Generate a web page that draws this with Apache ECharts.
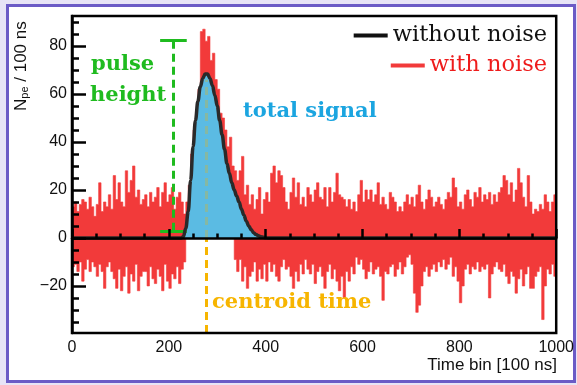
<!DOCTYPE html>
<html>
<head>
<meta charset="utf-8">
<script src="https://cdn.jsdelivr.net/npm/echarts@6/dist/echarts.min.js"></script>
<style>
  html, body { margin: 0; padding: 0; background: #e7e4f6; }
  #frame { position: absolute; left: 6px; top: 4px; width: 564px; height: 373px; border: 3px solid #6b5bc6; background: #ffffff; }
  #chart { position: absolute; left: 0; top: 0; width: 577px; height: 385px; }
</style>
</head>
<body>
<div id="frame"></div>
<div id="chart"></div>
<script>
// ---------------- data ----------------
// histogram bins: 200 bins of 5 time-bins each (0 .. 1000)
const binWidth = 5;
// upper envelope of the noisy histogram (N_pe / 100 ns)
const noisyUpper = [
  13, 15, 11, 14, 16, 15, 12, 17, 13, 9,
  14, 23, 11, 15, 13, 18, 12, 26, 16, 23,
  15, 13, 28, 19, 24, 30, 17, 20, 14, 16,
  18, 13, 19, 15, 17, 21, 13, 19, 23, 15,
  18, 21, 12, 17, 19, 15, 10, 15, 22, 35,
  45, 53, 62, 86, 87, 82, 84, 74, 77, 66,
  62, 52, 50, 45, 38, 42, 30, 28, 24, 28,
  34, 18, 22, 14, 18, 12, 16, 21, 10, 16,
  19, 15, 27, 30, 23, 28, 26, 21, 15, 12,
  19, 25, 17, 23, 14, 17, 13, 21, 18, 15,
  20, 23, 17, 16, 21, 13, 21, 15, 19, 27,
  18, 17, 16, 13, 16, 12, 15, 11, 18, 24,
  15, 20, 16, 20, 15, 18, 23, 14, 17, 14,
  12, 19, 17, 15, 11, 13, 11, 15, 18, 14,
  17, 13, 18, 22, 15, 12, 16, 20, 17, 13,
  15, 17, 14, 12, 16, 19, 17, 25, 21, 13,
  15, 12, 18, 20, 16, 13, 19, 17, 21, 15,
  18, 16, 19, 14, 18, 15, 19, 21, 26, 24,
  18, 23, 15, 20, 29, 23, 17, 13, 26, 15,
  10, 12, 11, 14, 12, 18, 15, 11, 15, 18
];
// lower envelope of the noisy histogram
const noisyLower = [
  -12, -11, -14, -10, -18, -13, -9, -14, -10, -12,
  -16, -11, -14, -21, -12, -10, -14, -17, -21, -13,
  -22, -16, -12, -23, -15, -18, -11, -22, -16, -14,
  -14, -20, -12, -17, -19, -13, -16, -22, -11, -18,
  -21, -15, -17, -12, -19, -13, -10, 0, 0, 0,
  0, 0, 0, 0, 0, 0, 0, 0, 0, 0,
  0, 0, 0, 0, 0, 0, 0, -9, -14, -9,
  -18, -12, -21, -16, -14, -10, -18, -13, -17, -11,
  -18, -10, -14, -11, -16, -18, -12, -9, -13, -12,
  -16, -21, -14, -18, -11, -15, -9, -13, -15, -11,
  -19, -14, -12, -16, -21, -14, -11, -17, -13, -18,
  -22, -16, -25, -14, -18, -12, -15, -8, -11, -9,
  -13, -17, -14, -10, -15, -13, -12, -16, -26, -14,
  -15, -12, -11, -16, -13, -10, -15, -12, -8, -7,
  -11, -23, -31, -28, -20, -14, -12, -16, -13, -11,
  -14, -10, -12, -9, -13, -11, -8, -16, -12, -18,
  -27, -20, -13, -11, -15, -12, -13, -10, -14, -12,
  -13, -11, -25, -15, -12, -10, -13, -14, -11, -16,
  -19, -14, -16, -23, -17, -13, -20, -15, -12, -21,
  -21, -16, -14, -12, -34, -20, -13, -15, -11, -16
];
// pulse without noise
const pulseTime = [0, 220, 225, 230, 235, 240, 245, 250, 255, 260, 265, 270, 275, 280, 285, 290, 295,
  300, 305, 310, 315, 320, 325, 330, 335, 340, 345, 350, 355, 360, 365, 370, 375, 380, 385, 390, 395, 400, 405, 410, 1000];
const pulseValue = [0, 0, 0, 0.5, 4, 11, 24, 38, 49, 57, 63, 66.5, 68.3, 68.3, 66.5, 63.5, 59.5,
  55, 49, 43, 37, 31, 27, 23, 20, 17.5, 15, 12, 9.5, 7, 5, 3.5, 2.2, 1.4, 0.9, 0.5, 0.3, 0.1, 0, 0, 0];
// axes
const xMajorTicks = [0, 200, 400, 600, 800, 1000];
const xMinorTicks = [50, 100, 150, 250, 300, 350, 450, 500, 550, 650, 700, 750, 850, 900, 950];
const yMajorTicks = [-20, 0, 20, 40, 60, 80];
const yMinorTicks = [-35, -30, -25, -15, -10, -5, 5, 10, 15, 25, 30, 35, 45, 50, 55, 65, 70, 75, 85, 90];
const xRange = [0, 1000];
const yRange = [-39.6, 92.5];
// annotations (data coordinates)
const pulseHeightX = 209.5, pulseHeightLow = 3, pulseHeightHigh = 82.5, capLeft = 182, capRight = 237;
const centroidX = 278, centroidTop = 66;

// ---------------- build ----------------
function histPairs(vals) {
  const out = vals.map((v, i) => [i * binWidth, v]);
  out.push([vals.length * binWidth, vals[vals.length - 1]]);
  return out;
}
const pulsePairs = pulseTime.map((t, i) => [t, pulseValue[i]]);
const signalPairs = pulsePairs.filter(p => p[0] >= 220 && p[0] <= 410);

const RED = '#f23a3a';
const BLUE = '#5bbbe3';
const GREEN = '#1fbb1f';
const ORANGE = '#f7b500';

const chart = echarts.init(document.getElementById('chart'), null, { renderer: 'canvas' });

const tickLabel = { fontFamily: 'Liberation Sans', fontSize: 16, color: '#111' };

chart.setOption({
  animation: false,
  backgroundColor: 'transparent',
  grid: { left: 72, right: 20, top: 16, bottom: 52, show: true, borderColor: '#000', borderWidth: 2.5, z: 10 },
  legend: [
    { data: [{ name: 'without noise' }], right: 30, top: 24, padding: 0, icon: 'rect', itemWidth: 34, itemHeight: 4,
      selectedMode: false, textStyle: { fontFamily: 'DejaVu Serif', fontSize: 22.5, color: '#111' } },
    { data: [{ name: 'with noise', textStyle: { color: '#ee1c1c' } }], right: 30, top: 54, padding: 0, icon: 'rect',
      itemWidth: 34, itemHeight: 4, selectedMode: false, textStyle: { fontFamily: 'DejaVu Serif', fontSize: 22.5, color: '#ee1c1c' } }
  ],
  xAxis: [
    { type: 'value', min: xRange[0], max: xRange[1], z: 10,
      axisLine: { show: true, lineStyle: { color: '#000', width: 2.5 } },
      axisTick: { show: true, inside: true, length: 9, lineStyle: { color: '#000', width: 2.5 }, customValues: xMajorTicks },
      axisLabel: { show: true, margin: 7, customValues: xMajorTicks, formatter: v => String(v), ...tickLabel },
      splitLine: { show: false } },
    { type: 'value', min: xRange[0], max: xRange[1], position: 'bottom', z: 10,
      axisLine: { show: false },
      axisTick: { show: true, inside: true, length: 4.5, lineStyle: { color: '#000', width: 2.5 }, customValues: xMinorTicks },
      axisLabel: { show: false }, splitLine: { show: false } }
  ],
  yAxis: [
    { type: 'value', min: yRange[0], max: yRange[1], z: 10,
      axisLine: { show: true, lineStyle: { color: '#000', width: 2.5 } },
      axisTick: { show: true, inside: true, length: 14, lineStyle: { color: '#000', width: 2.5 }, customValues: yMajorTicks },
      axisLabel: { show: true, margin: 5, customValues: yMajorTicks, formatter: v => String(v).replace('-', '\u2212'), ...tickLabel },
      splitLine: { show: false } },
    { type: 'value', min: yRange[0], max: yRange[1], position: 'left', z: 10,
      axisLine: { show: false },
      axisTick: { show: true, inside: true, length: 7, lineStyle: { color: '#000', width: 2.5 }, customValues: yMinorTicks },
      axisLabel: { show: false }, splitLine: { show: false } }
  ],
  series: [
    { name: 'with noise', type: 'line', step: 'end', data: histPairs(noisyUpper), symbol: 'none', z: 2,
      itemStyle: { color: RED }, lineStyle: { width: 0.6, color: RED }, areaStyle: { color: RED, opacity: 1 } },
    { name: 'with noise', type: 'line', step: 'end', data: histPairs(noisyLower), symbol: 'none', z: 2,
      itemStyle: { color: RED }, lineStyle: { width: 0.6, color: RED }, areaStyle: { color: RED, opacity: 1 } },
    { name: 'total signal', type: 'line', data: signalPairs, smooth: 0.4, smoothMonotone: 'x', symbol: 'none', z: 3,
      lineStyle: { width: 0 }, areaStyle: { color: BLUE, opacity: 1 },
      markLine: { silent: true, symbol: ['none', 'none'], label: { show: false },
        lineStyle: { color: '#333', width: 1, type: 'solid' }, data: [{ yAxis: 0 }] } },
    { name: 'annotations', type: 'line', data: [], z: 4,
      markLine: { silent: true, symbol: ['none', 'none'], label: { show: false }, animation: false,
        data: [
          [{ coord: [pulseHeightX, pulseHeightLow], lineStyle: { color: GREEN, width: 3, type: [8, 5] } }, { coord: [pulseHeightX, pulseHeightHigh] }],
          [{ coord: [capLeft, pulseHeightHigh], lineStyle: { color: GREEN, width: 3, type: 'solid' } }, { coord: [capRight, pulseHeightHigh] }],
          [{ coord: [capLeft, pulseHeightLow], lineStyle: { color: GREEN, width: 3, type: 'solid' } }, { coord: [capRight, pulseHeightLow] }],
          [{ coord: [centroidX, yRange[0]], lineStyle: { color: ORANGE, width: 3, type: [8, 5] } }, { coord: [centroidX, 0] }],
          [{ coord: [centroidX, 0], lineStyle: { color: '#86b8a2', width: 3, type: [8, 5] } }, { coord: [centroidX, centroidTop] }]
        ] } },
    { name: 'without noise', type: 'line', data: pulsePairs, smooth: 0.4, smoothMonotone: 'x', symbol: 'none', z: 5,
      itemStyle: { color: '#111' }, lineStyle: { width: 3.5, color: '#2a2a2a' } }
  ],
  graphic: [
    { type: 'text', x: 91, y: 65, z: 20, style: { text: 'pulse', font: 'bold 21px "DejaVu Serif"', fill: GREEN, verticalAlign: 'middle' } },
    { type: 'text', x: 90, y: 96, z: 20, style: { text: 'height', font: 'bold 21px "DejaVu Serif"', fill: GREEN, verticalAlign: 'middle' } },
    { type: 'text', x: 243, y: 112, z: 20, style: { text: 'total signal', font: 'bold 21px "DejaVu Serif"', fill: '#1ba5e0', verticalAlign: 'middle' } },
    { type: 'text', x: 212, y: 303, z: 20, style: { text: 'centroid time', font: 'bold 21px "DejaVu Serif"', fill: ORANGE, verticalAlign: 'middle' } },
    { type: 'text', x: 557, y: 365, z: 20, style: { text: 'Time bin [100 ns]', font: '17px "Liberation Sans"', fill: '#111', align: 'right', verticalAlign: 'middle' } },
    { type: 'text', x: 20, y: 111, rotation: Math.PI / 2, z: 20,
      style: { text: '{a|N}{b|pe}{a| / 100 ns}', align: 'left', verticalAlign: 'middle',
        rich: { a: { fontFamily: 'Liberation Sans', fontSize: 17, fill: '#111', lineHeight: 20, verticalAlign: 'bottom' },
                b: { fontFamily: 'Liberation Sans', fontSize: 11, fill: '#111', lineHeight: 8, verticalAlign: 'bottom' } } } }
  ]
});
</script>
</body>
</html>
